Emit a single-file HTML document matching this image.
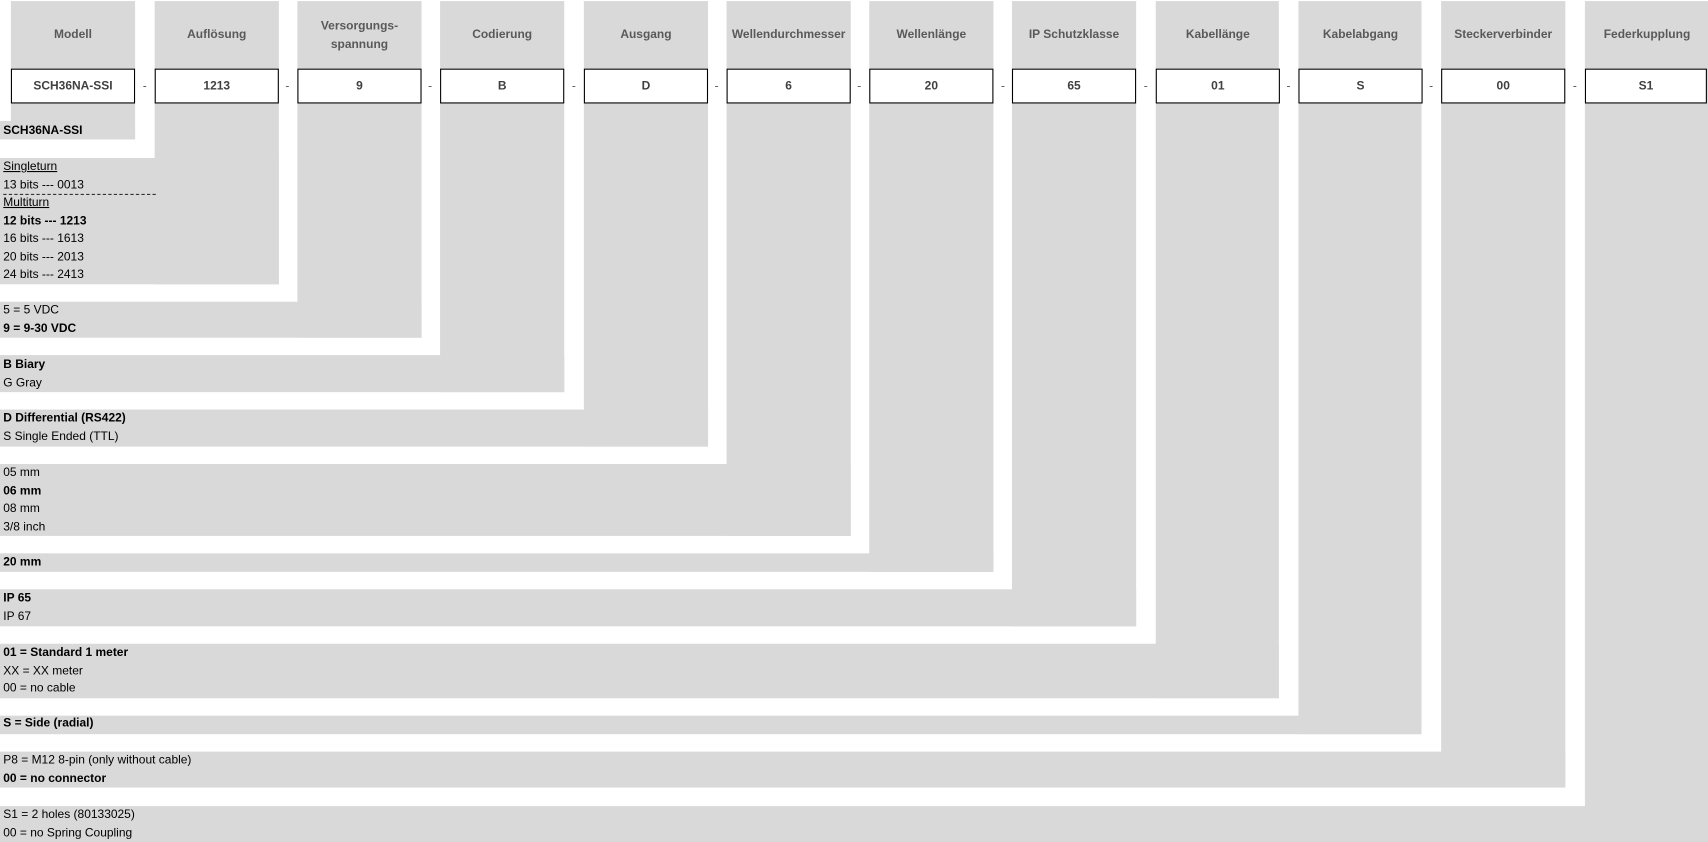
<!DOCTYPE html>
<html><head><meta charset="utf-8"><style>
html,body{margin:0;padding:0;background:#fff;width:1708px;height:842px;overflow:hidden}
#c{position:absolute;left:0;top:0;width:1568px;height:773px;transform:scale(1.08929);transform-origin:0 0;font-family:"Liberation Sans",sans-serif}
.g{position:absolute;background:#d9d9d9}
.h{position:absolute;width:114px;text-align:center;color:#595959;font-weight:bold;font-size:11px;line-height:17px}
.b{position:absolute;width:112px;height:30px;border:1px solid #000;background:#fff;text-align:center;line-height:30px;font-size:11px;font-weight:bold;color:#404040;top:63px}
.d{position:absolute;top:73px;font-size:11px;color:#595959}
.t{position:absolute;left:3px;font-size:11px;line-height:16.5px;color:#000;white-space:nowrap}
.t b{font-weight:bold}
.u{text-decoration:underline}
</style></head><body><div id="c">
<div class="g" style="left:10px;top:1px;width:114px;height:127px"></div>
<div class="g" style="left:142px;top:1px;width:114px;height:260px"></div>
<div class="g" style="left:273px;top:1px;width:114px;height:309px"></div>
<div class="g" style="left:404px;top:1px;width:114px;height:359px"></div>
<div class="g" style="left:536px;top:1px;width:114px;height:409px"></div>
<div class="g" style="left:667px;top:1px;width:114px;height:491px"></div>
<div class="g" style="left:798px;top:1px;width:114px;height:524px"></div>
<div class="g" style="left:929px;top:1px;width:114px;height:574px"></div>
<div class="g" style="left:1061px;top:1px;width:113px;height:640px"></div>
<div class="g" style="left:1192px;top:1px;width:113px;height:673px"></div>
<div class="g" style="left:1323px;top:1px;width:114px;height:722px"></div>
<div class="g" style="left:1455px;top:1px;width:113px;height:772px"></div>
<div class="g" style="left:0;top:111px;width:124px;height:17px"></div>
<div class="g" style="left:0;top:145px;width:256px;height:116px"></div>
<div class="g" style="left:0;top:277px;width:387px;height:33px"></div>
<div class="g" style="left:0;top:326px;width:518px;height:34px"></div>
<div class="g" style="left:0;top:376px;width:650px;height:34px"></div>
<div class="g" style="left:0;top:426px;width:781px;height:66px"></div>
<div class="g" style="left:0;top:508px;width:912px;height:17px"></div>
<div class="g" style="left:0;top:541px;width:1043px;height:34px"></div>
<div class="g" style="left:0;top:591px;width:1174px;height:50px"></div>
<div class="g" style="left:0;top:657px;width:1305px;height:17px"></div>
<div class="g" style="left:0;top:690px;width:1437px;height:33px"></div>
<div class="g" style="left:0;top:740px;width:1568px;height:33px"></div>
<div class="h" style="left:10px;top:24px">Modell</div>
<div class="h" style="left:142px;top:24px">Auflösung</div>
<div class="h" style="left:273px;top:16px">Versorgungs-<br>spannung</div>
<div class="h" style="left:404px;top:24px">Codierung</div>
<div class="h" style="left:536px;top:24px">Ausgang</div>
<div class="h" style="left:667px;top:24px">Wellendurchmesser</div>
<div class="h" style="left:798px;top:24px">Wellenlänge</div>
<div class="h" style="left:929px;top:24px">IP Schutzklasse</div>
<div class="h" style="left:1061px;top:24px">Kabellänge</div>
<div class="h" style="left:1192px;top:24px">Kabelabgang</div>
<div class="h" style="left:1323px;top:24px">Steckerverbinder</div>
<div class="h" style="left:1455px;top:24px">Federkupplung</div>
<div class="b" style="left:10px">SCH36NA-SSI</div>
<div class="b" style="left:142px">1213</div>
<div class="b" style="left:273px">9</div>
<div class="b" style="left:404px">B</div>
<div class="b" style="left:536px">D</div>
<div class="b" style="left:667px">6</div>
<div class="b" style="left:798px">20</div>
<div class="b" style="left:929px">65</div>
<div class="b" style="left:1061px">01</div>
<div class="b" style="left:1192px">S</div>
<div class="b" style="left:1323px">00</div>
<div class="b" style="left:1455px;width:110px">S1</div>
<div class="d" style="left:131px">-</div>
<div class="d" style="left:262px">-</div>
<div class="d" style="left:393px">-</div>
<div class="d" style="left:525px">-</div>
<div class="d" style="left:656px">-</div>
<div class="d" style="left:787px">-</div>
<div class="d" style="left:919px">-</div>
<div class="d" style="left:1050px">-</div>
<div class="d" style="left:1181px">-</div>
<div class="d" style="left:1312px">-</div>
<div class="d" style="left:1444px">-</div>
<div class="t" style="top:112px"><b>SCH36NA-SSI</b></div>
<div class="t" style="top:145px"><span class="u">Singleturn</span><br>13 bits --- 0013<br><span class="u">Multiturn</span><br><b>12 bits --- 1213</b><br>16 bits --- 1613<br>20 bits --- 2013<br>24 bits --- 2413</div>
<div style="position:absolute;left:3px;top:178px;width:140px;border-top:1px dashed #333"></div>
<div class="t" style="top:277px">5 = 5 VDC<br><b>9 = 9-30 VDC</b></div>
<div class="t" style="top:327px"><b>B Biary</b><br>G Gray</div>
<div class="t" style="top:376px"><b>D Differential (RS422)</b><br>S Single Ended (TTL)</div>
<div class="t" style="top:426px">05 mm<br><b>06 mm</b><br>08 mm<br>3/8 inch</div>
<div class="t" style="top:508px"><b>20 mm</b></div>
<div class="t" style="top:541px"><b>IP 65</b><br>IP 67</div>
<div class="t" style="top:591px"><b>01 = Standard 1 meter</b><br>XX = XX meter<br>00 = no cable</div>
<div class="t" style="top:656px"><b>S = Side (radial)</b></div>
<div class="t" style="top:690px">P8 = M12 8-pin (only without cable)<br><b>00 = no connector</b></div>
<div class="t" style="top:740px">S1 = 2 holes (80133025)<br>00 = no Spring Coupling</div>
</div></body></html>
